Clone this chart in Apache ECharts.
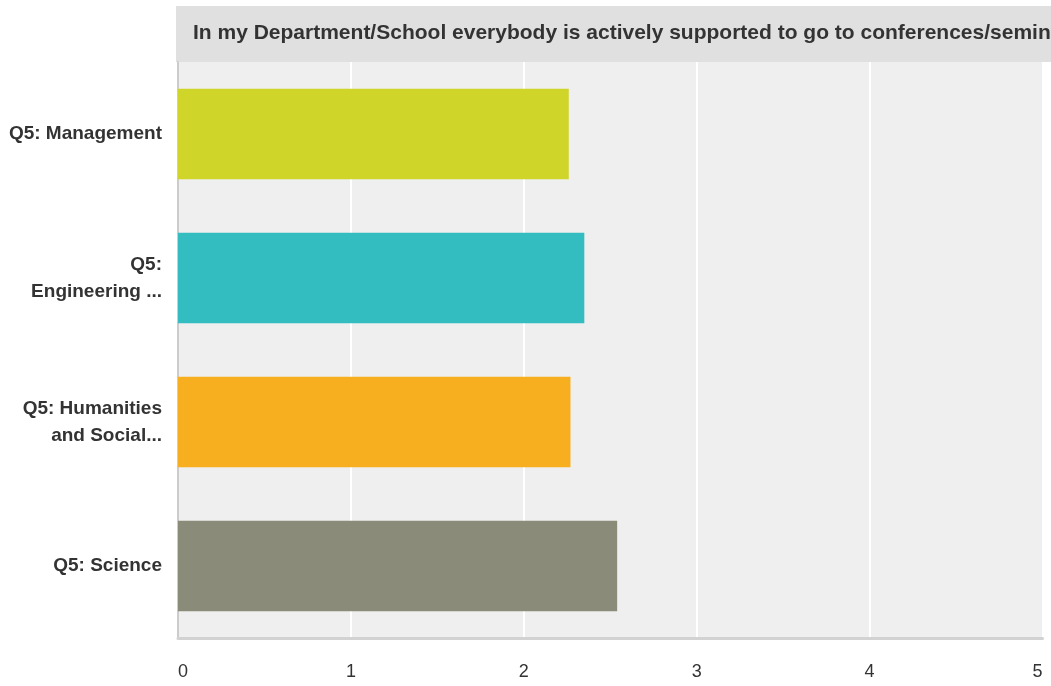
<!DOCTYPE html>
<html><head><meta charset="utf-8">
<script src="https://cdn.jsdelivr.net/npm/echarts@6/dist/echarts.min.js"></script>
<style>html,body{margin:0;padding:0;background:#fff}#c{width:1051px;height:686px}</style>
</head><body><div id="c"></div>
<script>
const titleText = 'In my Department/School everybody is actively supported to go to conferences/seminars';
const categories = ['Q5: Management', 'Q5:\nEngineering ...', 'Q5: Humanities\nand Social...', 'Q5: Science'];
const values = [2.26, 2.35, 2.27, 2.54];
const colors = ['#cfd529', '#34bdc0', '#f7af1f', '#8a8b79'];
const ticks = [0, 1, 2, 3, 4, 5];

const chart = echarts.init(document.getElementById('c'), null, {renderer: 'canvas'});
chart.setOption({
  animation: false,
  backgroundColor: '#ffffff',
  graphic: [
    {type: 'rect', left: 176, top: 6, shape: {width: 880, height: 56}, style: {fill: '#e0e0e0'}, z: 0},
    {type: 'text', x: 193, y: 33, style: {text: titleText, fill: '#333333', font: 'bold 21px "Liberation Sans", Arial, sans-serif', verticalAlign: 'middle', align: 'left'}, z: 1}
  ],
  grid: {left: 178, right: 8.5, top: 62, bottom: 48, show: true, backgroundColor: '#efefef', borderWidth: 0},
  xAxis: {
    type: 'value', min: ticks[0], max: ticks[ticks.length - 1], interval: 1,
    axisLine: {show: true, lineStyle: {color: '#d2d2d2', width: 3}},
    axisTick: {show: false},
    splitLine: {show: true, lineStyle: {color: '#ffffff', width: 2}},
    axisLabel: {color: '#333333', fontSize: 18, fontFamily: '"Liberation Sans", Arial, sans-serif', margin: 25, alignMinLabel: 'left', alignMaxLabel: 'right'}
  },
  yAxis: {
    type: 'category', data: categories, inverse: true,
    axisLine: {show: true, lineStyle: {color: '#cccccc', width: 2}},
    axisTick: {show: false},
    splitLine: {show: false},
    axisLabel: {color: '#333333', fontSize: 19, fontWeight: 'bold', fontFamily: '"Liberation Sans", Arial, sans-serif', margin: 16, lineHeight: 27, align: 'right'}
  },
  series: [{
    type: 'bar',
    data: values.map((v, i) => ({value: v, itemStyle: {color: colors[i]}})),
    barCategoryGap: '37%',
    z: 3
  }]
});
</script></body></html>
